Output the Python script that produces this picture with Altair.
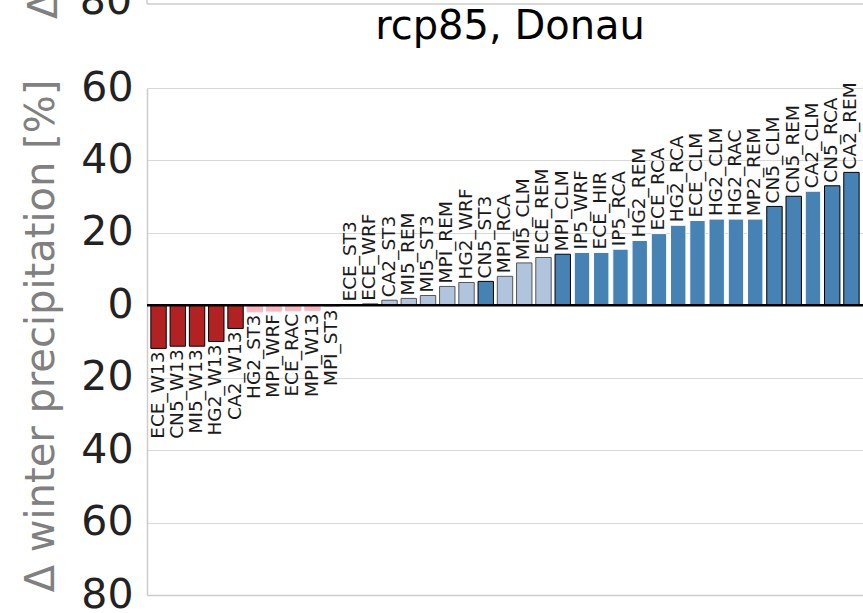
import altair as alt
import pandas as pd

models = ["ECE_W13", "CN5_W13", "MI5_W13", "HG2_W13", "CA2_W13",
          "HG2_ST3", "MPI_WRF", "ECE_RAC", "MPI_W13", "MPI_ST3",
          "ECE_ST3", "ECE_WRF", "CA2_ST3", "MI5_REM", "MI5_ST3",
          "MPI_REM", "HG2_WRF", "CN5_ST3", "MPI_RCA", "MI5_CLM",
          "ECE_REM", "MPI_CLM", "IP5_WRF", "ECE_HIR", "IP5_RCA",
          "HG2_REM", "ECE_RCA", "HG2_RCA", "ECE_CLM", "HG2_CLM",
          "HG2_RAC", "MP2_REM", "CN5_CLM", "CN5_REM", "CA2_CLM",
          "CN5_RCA", "CA2_REM"]
values = [-11.9, -11.3, -11.3, -10.0, -6.4,
          -1.8, -1.6, -1.5, -1.4, -0.3,
          0.2, 0.4, 1.4, 1.9, 2.7,
          5.2, 6.3, 6.6, 8.0, 11.7,
          13.2, 14.1, 14.6, 14.6, 15.5,
          17.9, 19.8, 22.1, 23.4, 23.8,
          23.8, 23.8, 27.3, 30.1, 31.5,
          33.0, 36.7]
groups = ["W13", "W13", "W13", "W13", "W13",
          "neg", "neg", "neg", "neg", "neg",
          "light", "light", "light", "light", "light",
          "light", "light", "steel_edge", "light", "light",
          "light", "steel_edge", "steel", "steel", "steel",
          "steel", "steel", "steel", "steel", "steel",
          "steel", "steel", "steel_edge", "steel_edge", "steel",
          "steel_edge", "steel_edge"]
y_ticks = [-80, -60, -40, -20, 0, 20, 40, 60]
title_text = "rcp85, Donau"
y_title = "Δ winter precipitation [%]"

df = pd.DataFrame({"model": models, "value": values, "group": groups})

group_domain = ["W13", "neg", "light", "steel", "steel_edge"]
fill_range = ["#b22222", "#ffb6c1", "#b0c4de", "#4682b4", "#4682b4"]
stroke_range = ["#000000", "#ffb6c1", "#555555", "#ffffff", "#000000"]

W, H = 716, 507
FONT = "DejaVu Sans"

x_enc = alt.X("model:N", sort=models,
              scale=alt.Scale(paddingInner=0.2, paddingOuter=0.2),
              axis=alt.Axis(labels=False, ticks=False, title=None,
                            domainColor="#cccccc", domainWidth=1.5, grid=False))
y_scale = alt.Scale(domain=[-80, 60], nice=False, zero=False)

base = alt.Chart(df)

bars = base.mark_bar(strokeWidth=1).encode(
    x=x_enc,
    y=alt.Y("value:Q", scale=y_scale,
            axis=alt.Axis(values=y_ticks, labelExpr="format(abs(datum.value), 'd')",
                          labelFont=FONT, labelFontSize=41, labelColor="#222222",
                          labelPadding=14, ticks=False,
                          domainColor="#cccccc", domainWidth=1.5,
                          grid=True, gridColor="#d9d9d9", gridWidth=1.2,
                          title=y_title, titleFont=FONT, titleFontSize=40,
                          titleFontWeight="normal", titleColor="#808080",
                          titleAngle=270, titleX=-106, titleY=H / 2 - 6,
                          titleAlign="center", titleBaseline="middle")),
    y2=alt.datum(0),
    fill=alt.Fill("group:N", scale=alt.Scale(domain=group_domain, range=fill_range), legend=None),
    stroke=alt.Stroke("group:N", scale=alt.Scale(domain=group_domain, range=stroke_range), legend=None),
)

pos_labels = base.transform_filter("datum.value >= 0").mark_text(
    angle=270, align="left", baseline="middle", dx=3, dy=-1,
    font=FONT, fontSize=18.5, color="#1a1a1a"
).encode(x=alt.X("model:N", sort=models), y=alt.Y("value:Q", scale=y_scale), text="model:N")

neg_labels = base.transform_filter("datum.value < 0").mark_text(
    angle=270, align="right", baseline="middle", dx=-3, dy=-1,
    font=FONT, fontSize=18.5, color="#1a1a1a"
).encode(x=alt.X("model:N", sort=models), y=alt.Y("value:Q", scale=y_scale), text="model:N")

zero_rule = alt.Chart(pd.DataFrame({"z": [0]})).mark_rule(
    color="black", strokeWidth=2.5
).encode(y=alt.Y("z:Q", scale=y_scale))

title_mark = alt.Chart(pd.DataFrame({"t": [title_text]})).mark_text(
    font=FONT, fontSize=40, align="center", baseline="alphabetic", color="#000000"
).encode(text="t:N", x=alt.value(363), y=alt.value(-49))

# remnants of the panel above (cropped)
upper_line = alt.Chart(pd.DataFrame({"a": [0]})).mark_rule(
    color="#cccccc", strokeWidth=1.5
).encode(x=alt.value(0), x2=alt.value(W), y=alt.value(-84))
upper_spine = alt.Chart(pd.DataFrame({"a": [0]})).mark_rule(
    color="#cccccc", strokeWidth=1.5
).encode(x=alt.value(0), y=alt.value(-100), y2=alt.value(-84))
upper_label = alt.Chart(pd.DataFrame({"t": ["80"]})).mark_text(
    font=FONT, fontSize=41, align="right", baseline="middle", color="#222222"
).encode(text="t:N", x=alt.value(-15), y=alt.value(-86))
upper_title = alt.Chart(pd.DataFrame({"t": [y_title]})).mark_text(
    font=FONT, fontSize=40, align="left", baseline="alphabetic", color="#808080", angle=270
).encode(text="t:N", x=alt.value(-90), y=alt.value(-69))

chart = alt.layer(
    bars, zero_rule, pos_labels, neg_labels, title_mark,
    upper_line, upper_spine, upper_label, upper_title
).properties(
    width=W, height=H,
    autosize=alt.AutoSizeParams(type="none"),
    padding={"left": 147, "top": 88, "right": 0, "bottom": 18},
    background="white",
).configure_view(stroke=None)

chart.save("out.html", embed_options={"renderer": "svg", "actions": False})
